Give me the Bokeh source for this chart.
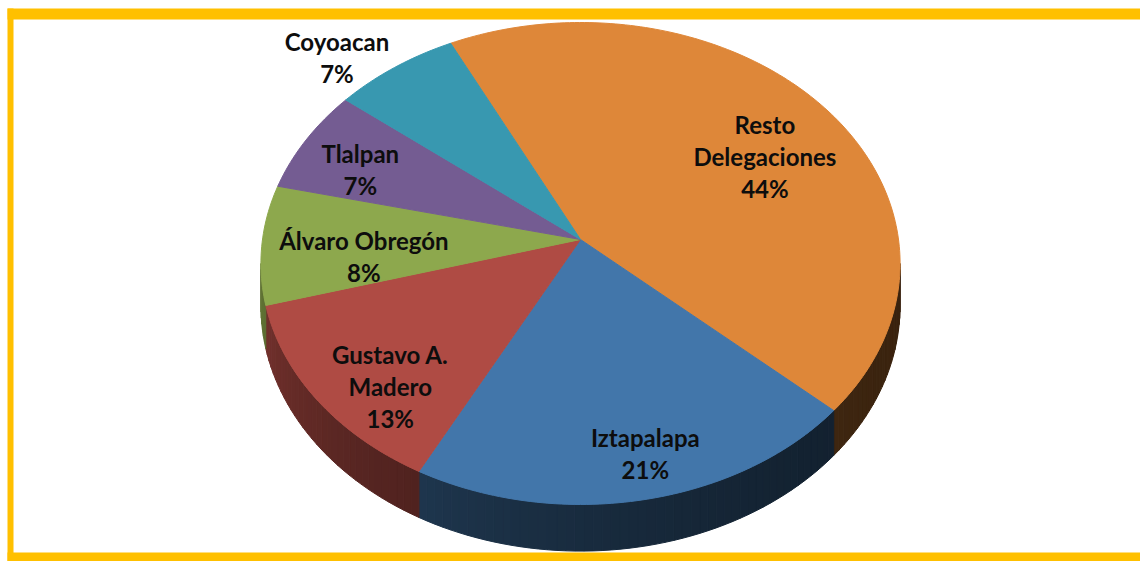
import numpy as np
from bokeh.plotting import figure
from bokeh.models import Range1d
from bokeh.core.properties import value
from bokeh.embed import file_html
from bokeh.resources import INLINE

# ---- data ----
names = ["Resto\nDelegaciones", "Iztapalapa", "Gustavo A.\nMadero",
         "Álvaro Obregón", "Tlalpan", "Coyoacan"]
shares = [44, 21, 13, 8, 7, 7]
top_colors = ["#DE8739", "#4276AA", "#AF4B44", "#8DA84D", "#745C92", "#3898B0"]

# ---- layout (in picture pixels of a 1140 x 561 canvas) ----
CANVAS_W, CANVAS_H = 1140, 561
CX, CY = 580, 239          # apex of the slices
RX, RY = 318, 238.6        # radii of the top face
K = 0.0995                 # perspective strength
DEPTH = 42                 # thickness of the pie
START = -26.4              # start angle (deg, clockwise from top)
label_r = [0.70, 0.845, 0.81, 0.68, 0.775, 1.17]
label_dphi = [6.3, -2.6, -6.9, -4.8, -2.8, -6.1]
LINE_GAP = 32
GOLD = "#FFC000"
# gold frame bands: (left, right, top, bottom)
frame_left = [7, 7, 7]
frame_right = [1141, 13, 1141]
frame_top = [8, 8, 552]
frame_bottom = [19, 561, 561]


def proj(phi_deg, r=1.0):
    a = np.radians(phi_deg)
    u = r * np.sin(a)
    v = -r * np.cos(a)
    s = 1.0 / (1.0 - K * v)
    return CX + RX * u * s, CY + RY * v * s, s


def shade(hex_color, f):
    h = hex_color.lstrip("#")
    rgb = [int(h[i:i + 2], 16) for i in (0, 2, 4)]
    return "#" + "".join(f"{max(0, min(255, int(round(c * f)))):02X}" for c in rgb)


p = figure(width=CANVAS_W, height=CANVAS_H,
           x_range=Range1d(0, CANVAS_W), y_range=Range1d(CANVAS_H, 0),
           output_backend="svg", toolbar_location=None,
           x_axis_location=None, y_axis_location=None,
           min_border_left=0, min_border_right=0,
           min_border_top=0, min_border_bottom=0,
           border_fill_color="white", background_fill_color="white",
           outline_line_color=None)
p.grid.visible = False

# gold frame
p.quad(left=frame_left, right=frame_right, top=frame_top, bottom=frame_bottom,
       fill_color=GOLD, line_color=None)

total = float(sum(shares))
bounds = []
acc = START
for v in shares:
    a0 = acc
    a1 = acc + 360.0 * v / total
    bounds.append((a0, a1))
    acc = a1

# ---- sides (visible front part only) ----
vis_lo = np.degrees(np.arccos(-K))
vis_hi = 360.0 - vis_lo
side_xs, side_ys, side_cols = [], [], []
for (a0, a1), col in zip(bounds, top_colors):
    lo, hi = max(a0, vis_lo), min(a1, vis_hi)
    if hi <= lo:
        continue
    n = max(2, int(np.ceil((hi - lo) / 1.5)))
    angs = np.linspace(lo, hi, n + 1)
    for i in range(n):
        b0, b1 = angs[i], angs[i + 1]
        x0, y0, s0 = proj(b0)
        x1, y1, s1 = proj(b1)
        side_xs.append([x0, x1, x1, x0])
        side_ys.append([y0, y1, y1 + DEPTH * s1, y0 + DEPTH * s0])
        t = ((b0 + b1) / 2 - vis_lo) / (vis_hi - vis_lo)
        side_cols.append(shade(col, 0.26 + 0.44 * t * t))
p.patches(side_xs, side_ys, fill_color=side_cols, line_color=side_cols, line_width=1)

# ---- top faces ----
top_xs, top_ys = [], []
for (a0, a1) in bounds:
    angs = np.linspace(a0, a1, max(8, int((a1 - a0) / 1.0)))
    xs, ys, _ = proj(angs)
    top_xs.append([CX] + list(xs))
    top_ys.append([CY] + list(ys))
p.patches(top_xs, top_ys, fill_color=top_colors, line_color=top_colors, line_width=1)

# ---- labels ----
tx, ty, tt = [], [], []
for i, (a0, a1) in enumerate(bounds):
    mid = (a0 + a1) / 2 + label_dphi[i]
    lx, ly, _ = proj(mid, label_r[i])
    lines = names[i].split("\n") + [f"{shares[i]}%"]
    n = len(lines)
    for j, ln in enumerate(lines):
        tx.append(lx)
        ty.append(ly + (j - (n - 1) / 2) * LINE_GAP)
        tt.append(ln)
p.text(tx, ty, text=tt, text_font=value("Lato"), text_font_style="bold",
       text_font_size="24px", text_color="#0D0D0D",
       text_align="center", text_baseline="middle")

open("out.html", "w").write(file_html(p, INLINE))
